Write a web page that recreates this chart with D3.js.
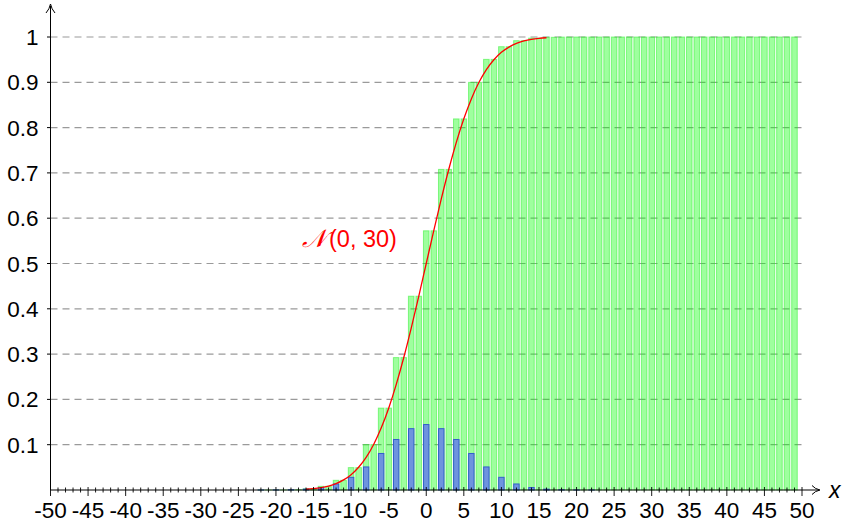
<!DOCTYPE html>
<html><head><meta charset="utf-8">
<script src="https://cdn.jsdelivr.net/npm/d3@7"></script>
<style>body{margin:0;background:#fff;} svg{display:block;}</style>
</head><body>
<svg id="c" width="843" height="522"></svg>
<script>
// x positions of the bars (integers -50..49)
const xs = d3.range(-50, 50);
// PMF of S (nonzero only at even values)
const pmfEven = [
  [-22,0.00003],[-20,0.00013],[-18,0.00055],[-16,0.0019],[-14,0.0055],[-12,0.0133],
  [-10,0.028],[-8,0.0509],[-6,0.0806],[-4,0.1115],[-2,0.1354],[0,0.1445],
  [2,0.1354],[4,0.1115],[6,0.0806],[8,0.0509],[10,0.028],[12,0.0133],
  [14,0.0055],[16,0.0019],[18,0.00055],[20,0.00013],[22,0.00003]
];
// CDF at even values (green bars keep that height at the following odd value)
const cdfEven = [
  [-22,0.00003],[-20,0.00016],[-18,0.0007],[-16,0.0026],[-14,0.0081],[-12,0.0214],
  [-10,0.0494],[-8,0.1002],[-6,0.1808],[-4,0.2923],[-2,0.4278],[0,0.5722],
  [2,0.7077],[4,0.8192],[6,0.8998],[8,0.9506],[10,0.9786],[12,0.9919],
  [14,0.9974],[16,0.9993],[18,0.9998],[20,0.99997],[22,1]
];
// red curve N(0,30) points
const curveX = d3.range(-16, 17);
const curveY = [0.0017,0.0031,0.0053,0.0088,0.0142,0.0223,0.0339,0.0502,0.0720,0.1006,
  0.1367,0.1806,0.2327,0.2919,0.3575,0.4275,0.5,0.5725,0.6425,0.7081,0.7673,0.8194,
  0.8633,0.8994,0.9280,0.9498,0.9661,0.9777,0.9858,0.9912,0.9947,0.9969,0.9983];
const xTicks = d3.range(-50, 51, 5);
const yTicks = [0.1,0.2,0.3,0.4,0.5,0.6,0.7,0.8,0.9,1];

const pmfMap = new Map(pmfEven);
const cdfMap = new Map(cdfEven);
function cdfAt(x){
  const e = (x % 2 === 0) ? x : x - 1;
  if (e < -22) return 0;
  if (e > 22) return 1;
  return cdfMap.get(e);
}

const svg = d3.select("#c");
const x = d3.scaleLinear().domain([-50, 50]).range([50.5, 802]);
const y = d3.scaleLinear().domain([0, 1]).range([490, 37]);
const font = "'Liberation Sans', Arial, sans-serif";

// grid
svg.append("g").selectAll("line").data(yTicks).join("line")
  .attr("x1", x(-50)).attr("x2", 806)
  .attr("y1", d => y(d)).attr("y2", d => y(d))
  .attr("stroke", "#9a9a9a").attr("stroke-width", 1.2).attr("stroke-dasharray", "7,5");

// green bars
const gw = 5.6;
svg.append("g").selectAll("rect").data(xs).join("rect")
  .attr("x", d => x(d) - gw/2).attr("width", gw)
  .attr("y", d => y(cdfAt(d))).attr("height", d => y(0) - y(cdfAt(d)))
  .attr("fill", "rgb(0,255,0)").attr("fill-opacity", 0.38)
  .attr("stroke", "rgb(40,240,40)").attr("stroke-opacity", 0.5).attr("stroke-width", 1);

// blue bars
const bw = 5.4;
svg.append("g").selectAll("rect").data(xs.filter(d => d%2===0 && d>=-30 && d<=30)).join("rect")
  .attr("x", d => x(d) - bw/2).attr("width", bw)
  .attr("y", d => y(pmfMap.get(d) || 0)).attr("height", d => y(0) - y(pmfMap.get(d) || 0))
  .attr("fill", "rgb(110,148,222)").attr("stroke", "rgb(50,95,205)").attr("stroke-width", 1);

// red curve
const line = d3.line().x(d => x(d[0])).y(d => y(d[1])).curve(d3.curveMonotoneX);
svg.append("path").datum(curveX.map((v,i) => [v, curveY[i]]))
  .attr("d", line).attr("fill", "none").attr("stroke", "red").attr("stroke-width", 1.3);

// axes
const ax = svg.append("g").attr("stroke", "#000").attr("fill", "none");
ax.append("line").attr("x1", x(-50)).attr("x2", 819).attr("y1", y(0)).attr("y2", y(0)).attr("stroke-width", 1);
ax.append("path").attr("d", `M812,485.5 Q815,489 820,490 Q815,491 812,494.5`).attr("stroke-width", 1);
ax.append("line").attr("x1", x(-50)).attr("x2", x(-50)).attr("y1", y(0)).attr("y2", 6).attr("stroke-width", 1);
ax.append("path").attr("d", `M${x(-50)-4.5},13 Q${x(-50)-1},9 ${x(-50)},4 Q${x(-50)+1},9 ${x(-50)+4.5},13`).attr("stroke-width", 1);

// x ticks (minor every unit, major every 5)
ax.append("g").selectAll("line").data(d3.range(-50, 51)).join("line")
  .attr("x1", d => x(d)).attr("x2", d => x(d))
  .attr("y1", d => d % 5 === 0 ? y(0) - 3 : y(0) - 2.5)
  .attr("y2", d => d % 5 === 0 ? y(0) + 6 : y(0) + 2.5)
  .attr("stroke-width", 0.9);
// y ticks
ax.append("g").selectAll("line").data(yTicks).join("line")
  .attr("x1", x(-50) - 3.5).attr("x2", x(-50))
  .attr("y1", d => y(d)).attr("y2", d => y(d)).attr("stroke-width", 1);

// tick labels
svg.append("g").selectAll("text").data(xTicks).join("text")
  .attr("x", d => x(d)).attr("y", 518).attr("text-anchor", "middle")
  .attr("font-family", font).attr("font-size", 22.5).text(d => d);
svg.append("g").selectAll("text").data(yTicks).join("text")
  .attr("x", 38.5).attr("y", d => y(d) + 8).attr("text-anchor", "end")
  .attr("font-family", font).attr("font-size", 22.5).text(d => d);

// axis label
svg.append("text").attr("x", 829).attr("y", 498).attr("font-family", font)
  .attr("font-style", "italic").attr("font-size", 23).text("x");

// curve label
const lab = svg.append("text").attr("x", 302).attr("y", 247).attr("fill", "red")
  .attr("font-family", font).attr("font-size", 23.5);
lab.append("tspan").attr("font-family", "'DejaVu Serif', serif").attr("font-style", "italic").attr("font-size", 25).text("𝒩");
lab.append("tspan").attr("dx", 3).text("(0, 30)");
</script>
</body></html>
